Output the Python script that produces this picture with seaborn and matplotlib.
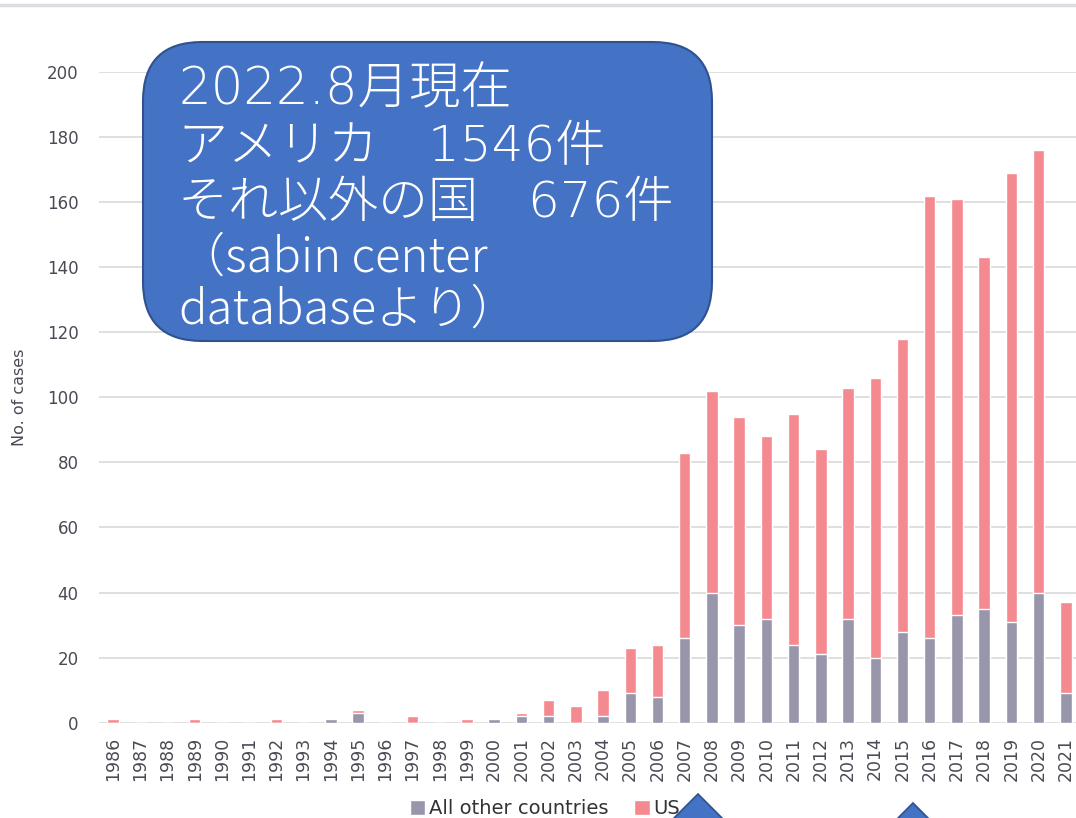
import matplotlib
matplotlib.use("Agg")
import matplotlib.pyplot as plt
import seaborn as sns
from matplotlib.patches import FancyBboxPatch, Polygon, Patch

#------------------------------------------------------------------------------------------------------------------------------------------------------
# data

years = ['1986', '1987', '1988', '1989', '1990', '1991', '1992', '1993', '1994', '1995',
         '1996', '1997', '1998', '1999', '2000', '2001', '2002', '2003', '2004', '2005',
         '2006', '2007', '2008', '2009', '2010', '2011', '2012', '2013', '2014', '2015',
         '2016', '2017', '2018', '2019', '2020', '2021']
other_countries = [0, 0, 0, 0, 0, 0, 0, 0, 1, 3, 0, 0, 0, 0, 1, 2, 2, 0, 2, 9,
                   8, 26, 40, 30, 32, 24, 21, 32, 20, 28, 26, 33, 35, 31, 40, 9]
us_cases = [1, 0, 0, 1, 0, 0, 1, 0, 0, 1, 0, 2, 0, 1, 0, 1, 5, 5, 8, 14,
            16, 57, 62, 64, 56, 71, 63, 71, 86, 90, 136, 128, 108, 138, 136, 28]
y_ticks = [0, 20, 40, 60, 80, 100, 120, 140, 160, 180, 200]

box_lines = ['2022.8月現在', 'アメリカ　1546件', 'それ以外の国　676件', '（sabin center', 'databaseより）']

#------------------------------------------------------------------------------------------------------------------------------------------------------

GRAY = '#9896AA'
PINK = '#F4898F'
BLUE = '#4472C4'
DARK_BLUE = '#2F528F'
W, H = 1076, 818


def px(x, y):
    '''pixel position (from top-left) to figure fraction'''
    return x / W, 1 - y / H


sns.set_theme(style='white')
plt.rcParams['font.family'] = ['DejaVu Sans', 'Noto Sans CJK JP']

fig = plt.figure(figsize=(10.76, 8.18), dpi=100)
ax = fig.add_axes([99.4 / W, (H - 722.7) / H, 980 / W, (722.7 - 72) / H])

totals = [o + u for o, u in zip(other_countries, us_cases)]
sns.barplot(x=years, y=totals, color=PINK, saturation=1, width=0.42, ax=ax, zorder=2)
sns.barplot(x=years, y=other_countries, color=GRAY, saturation=1, width=0.42, ax=ax, zorder=3)

ax.set_ylim(0, 200)
ax.set_xlim(-0.5, len(years) - 0.5)
ax.set_yticks(y_ticks)
ax.yaxis.grid(True, color='#D9D9D9', linewidth=1.2, zorder=0)
ax.set_axisbelow(True)
for s in ax.spines.values():
    s.set_visible(False)
ax.tick_params(axis='y', length=0, pad=15, labelsize=12, labelcolor='#4A4A55')
ax.tick_params(axis='x', length=0, pad=10, labelsize=12.5, labelcolor='#4A4A55', rotation=90)
ax.set_xlabel('')
ax.set_ylabel('No. of cases', fontsize=11.5, color='#4A4A55', labelpad=14)

# legend below the tick labels
handles = [Patch(facecolor=GRAY, label='All other countries'), Patch(facecolor=PINK, label='US')]
fig.legend(handles=handles, loc='center', bbox_to_anchor=px(545, 809), ncol=2, frameon=False,
           fontsize=14, handlelength=0.8, handleheight=0.8, handletextpad=0.2, columnspacing=1.3,
           labelcolor='#333333', borderpad=0)

# thin line along the top edge
fig.add_artist(plt.Line2D([0, 1], [1 - 5 / H, 1 - 5 / H], color='#DCDCE3', linewidth=2.5))

# callout box
x0, y0 = px(143, 341)
x1, y1 = px(712, 42)
box = FancyBboxPatch((x0, y0), x1 - x0, y1 - y0, boxstyle='round,pad=0,rounding_size=0.055',
                     transform=fig.transFigure, facecolor=BLUE, edgecolor=DARK_BLUE,
                     linewidth=1.5, zorder=10, mutation_aspect=W / H)
fig.add_artist(box)
# digits look wide in the original, lowercase narrow -> two font stacks
wide = ['DejaVu Sans', 'Noto Sans CJK JP']
narrow = ['Noto Sans CJK JP', 'DejaVu Sans']
for line, ypos, fam, size in zip(box_lines, [90, 147, 203, 258, 310],
                                 [wide, wide, wide, narrow, narrow], [37, 36, 36, 34, 34]):
    fig.text(*px(178, ypos), line, color='white', fontsize=size, va='center', ha='left',
             family=fam, fontweight='light', zorder=11)

# tips of two block arrows at the bottom
for ax_x, ax_y in [(698, 794), (913, 803)]:
    tri = Polygon([px(ax_x, ax_y), px(ax_x + 45, ax_y + 45), px(ax_x - 45, ax_y + 45)],
                  closed=True, transform=fig.transFigure, facecolor=BLUE,
                  edgecolor=DARK_BLUE, linewidth=1.2, zorder=12)
    fig.add_artist(tri)

fig.savefig('out.png', dpi=100)
